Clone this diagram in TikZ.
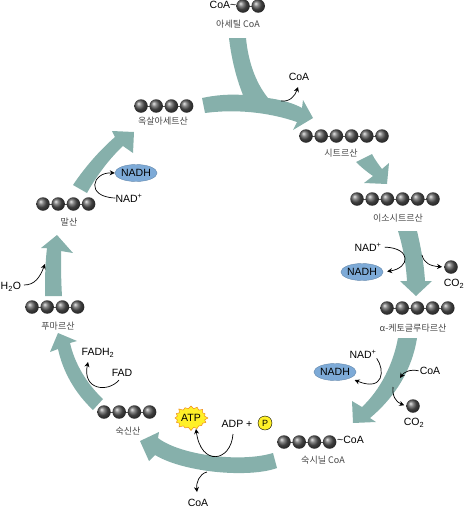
\documentclass[tikz,border=0pt]{standalone}
\usepackage{fontspec}
\setmainfont{Liberation Sans}
\newfontfamily\krfont{Noto Sans CJK KR}
\usetikzlibrary{arrows.meta, shapes.symbols, shapes.geometric}
\definecolor{cycleteal}{RGB}{134,176,171}
\definecolor{nadhblue}{RGB}{125,170,215}
\definecolor{atpyellow}{RGB}{255,240,40}
\definecolor{atporange}{RGB}{240,140,30}
\definecolor{labelgray}{RGB}{70,70,70}
\tikzset{
  bigarrow/.style={fill=cycleteal, draw=none},
  smallarrow/.style={-{Stealth[length=5pt,width=5pt]}, line width=0.7pt, black},
  carbon/.style={circle, minimum size=13.5pt, inner sep=0pt, shading=ball, ball color=black!65},
  molname/.style={font=\krfont\fontsize{9}{10}\selectfont, text=labelgray, inner sep=0pt},
  chem/.style={font=\fontsize{10.5}{12}\selectfont, inner sep=0pt},
  nadh/.style={ellipse, draw=nadhblue!80!black, fill=nadhblue, minimum width=40pt, minimum height=17pt,
               inner sep=0pt, font=\fontsize{10.5}{12}\selectfont},
}
% row of carbon balls: name, count, first x, y
\newcommand{\chain}[4]{
  \draw[line width=0.8pt, black!70] (#3,#4) -- ++({(#2-1)*15.2},0);
  \foreach \i in {1,...,#2} \node[carbon] (#1\i) at ({#3+(\i-1)*15.2},#4) {};
}
\begin{document}
\begin{tikzpicture}[x=1pt,y=-1pt]
\useasboundingbox (0,0) rectangle (465,512);
% big arrows
\fill[bigarrow] (202,98) .. controls (216,95) and (230,94) .. (243,95)
  .. controls (235,75) and (231,55) .. (229,38) -- (246,38)
  .. controls (248,60) and (255,82) .. (268,98)
  .. controls (282,100) and (293,103) .. (302,108) -- (303,100) -- (313,118) -- (293,130) -- (297,122)
  .. controls (268,112) and (235,109) .. (205,113) -- cycle;
\fill[bigarrow] (356,162) -- (372,154) .. controls (375,160) and (379,165) .. (382,169) -- (389,163) -- (387,184) -- (364,183) -- (373,176)
  .. controls (367,172) and (361,167) .. (356,162) -- cycle;
\fill[bigarrow] (398,231) -- (417,231) .. controls (421,248) and (424,264) .. (425,281) -- (432,281) -- (416,296) -- (400,281) -- (407,281)
  .. controls (406,264) and (403,247) .. (398,231) -- cycle;
\fill[bigarrow] (398,338) -- (417,338) .. controls (412,370) and (395,397) .. (370,418) -- (376,422) -- (353,423) -- (352,401) -- (362,407)
  .. controls (380,390) and (393,365) .. (398,338) -- cycle;
\fill[bigarrow] (273,453) -- (277,468) .. controls (250,478) and (185,473) .. (155,455) -- (149,461) -- (140,441) -- (159,432) -- (158,438)
  .. controls (180,455) and (240,463) .. (273,453) -- cycle;
\fill[bigarrow] (103,399) -- (93,410) .. controls (75,393) and (63,372) .. (58,349) -- (50,352) -- (58,333) -- (77,341) -- (70,343)
  .. controls (75,365) and (88,385) .. (103,399) -- cycle;
\fill[bigarrow] (45,296) -- (62,296) .. controls (61,280) and (61,265) .. (61,251) -- (73,253) -- (57,235) -- (41,248) -- (47,248)
  .. controls (45,265) and (45,280) .. (45,296) -- cycle;
\fill[bigarrow] (73,185) -- (87,193) .. controls (97,175) and (110,158) .. (123,146) -- (133,153) -- (134,132) -- (112,131) -- (115,137)
  .. controls (100,150) and (85,167) .. (73,185) -- cycle;
% molecules
\chain{oxalo}{4}{141}{106}
\chain{citr}{6}{306}{136}
\chain{iso}{6}{357}{199}
\chain{keto}{5}{387}{308}
\chain{succoa}{4}{284}{442}
\chain{succ}{4}{104}{412}
\chain{fum}{4}{32}{307}
\chain{mal}{4}{43}{204}
\chain{acet}{2}{243}{6}
\node[chem, anchor=east] (coaacet) at (236.5,5) {CoA\char`~};
\node[chem, anchor=west] (coasuc) at (337,440) {\char`~CoA};
% names
\node[molname] (nacet) at (238,24) {아세틸 CoA};
\node[molname] (noxalo) at (163,121) {옥살아세트산};
\node[molname] (ncitr) at (341,153) {시트르산};
\node[molname] (niso) at (398,218) {이소시트르산};
\node[molname] (nketo) at (413,328) {α-케토글루타르산};
\node[molname] (nsuccoa) at (323,460) {숙시닐 CoA};
\node[molname] (nsucc) at (128,431) {숙신산};
\node[molname] (nfum) at (58,326) {푸마르산};
\node[molname] (nmal) at (69,222) {말산};
% citrate step
\node[chem] (coaa) at (299,77) {CoA};
\coordinate (coaaS) at (281,101);
\coordinate (coaaE) at (298,87);
\draw[smallarrow] (coaaS) .. controls (290,102) and (295,96) .. (coaaE);
% isocitrate step
\node[chem] (nadb) at (368,247) {NAD\textsuperscript{+}};
\node[nadh] (nadhb) at (362,272) {NADH};
\draw[smallarrow, shorten <=3pt, shorten >=4pt] (nadb.east) .. controls (412,248) and (410,268) .. (nadhb.east);
\coordinate (cob) at (422,255);
\node[carbon] (coball) at (451,267) {};
\node[chem] (cotwob) at (454,284) {CO\textsubscript{2}};
\draw[smallarrow, shorten >=2pt] (cob) .. controls (424,263) and (430,266) .. (coball.west);
% ketoglutarate step
\node[chem] (nadc) at (363,354) {NAD\textsuperscript{+}};
\node[nadh] (nadhc) at (335,372) {NADH};
\draw[smallarrow, shorten >=5pt] (nadc.south east) .. controls (385,370) and (384,392) .. (nadhc.south east);
\node[chem] (coac) at (430,371) {CoA};
\coordinate (coacE) at (400,378);
\draw[smallarrow, shorten <=1pt] (coac.west) .. controls (410,369) and (404,372) .. (coacE);
\coordinate (coc) at (393,387);
\node[carbon] (coballc) at (413,406) {};
\node[chem] (cotwoc) at (414,423) {CO\textsubscript{2}};
\draw[smallarrow, shorten >=2pt] (coc) .. controls (392,396) and (396,402) .. (coballc.west);
% succinyl step
\node[starburst, fill=atpyellow, draw=atporange, line width=0.5pt, inner sep=0pt, minimum width=34pt, minimum height=26pt,
  starburst points=16, starburst point height=3.5pt, font=\fontsize{10.5}{12}\selectfont] (atp) at (191,418) {ATP};
\node[chem] (adp) at (237,424) {ADP +};
\node[circle, draw=black, fill=atpyellow, minimum size=14pt, inner sep=0pt, font=\fontsize{9}{10}\selectfont] (pi) at (265,423) {P};
\coordinate (adpS) at (233,434);
\coordinate (atpE) at (196,429);
\draw[smallarrow] (adpS) .. controls (231,462) and (201,467) .. (atpE);
\coordinate (coadS) at (207,472);
\node[chem] (coad) at (198,503) {CoA};
\coordinate (coadE) at (197,492);
\draw[smallarrow] (coadS) .. controls (199,474) and (196,483) .. (coadE);
% succinate step
\node[chem] (fad) at (122,373) {FAD};
\node[chem] (fadh) at (98,353) {FADH\textsubscript{2}};
\coordinate (fadS) at (119,380);
\coordinate (fadE) at (88,362);
\draw[smallarrow] (fadS) .. controls (108,393) and (82,390) .. (fadE);
% fumarate step
\node[chem, anchor=west] (water) at (0.5,287) {H\textsubscript{2}O};
\coordinate (waterS) at (24,285);
\coordinate (waterE) at (45,264);
\draw[smallarrow] (waterS) .. controls (35,285) and (40,277) .. (waterE);
% malate step
\node[chem] (nadm) at (129,198) {NAD\textsuperscript{+}};
\node[nadh] (nadhm) at (136,173) {NADH};
\draw[smallarrow] (nadm.west) .. controls (85,197) and (92,172) .. (nadhm.west);
\end{tikzpicture}
\end{document}
